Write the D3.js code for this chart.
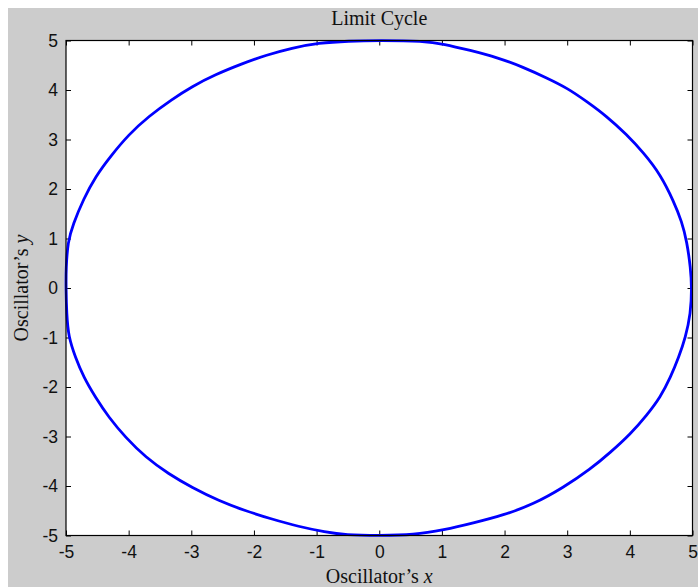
<!DOCTYPE html>
<html>
<head>
<meta charset="utf-8">
<script src="https://cdn.jsdelivr.net/npm/d3@7"></script>
<style>
  html, body { margin: 0; padding: 0; background: #ffffff; }
  svg { display: block; }
</style>
</head>
<body>
<svg id="chart" width="698" height="587"></svg>
<script>
// Phase-plane trajectory of the oscillator, traced counter-clockwise from (5, 0)
const cycleX = [
  4.99, 4.97, 4.91, 4.83, 4.70, 4.49, 4.22, 3.95, 3.63, 3.31, 3.00, 2.68, 2.30, 1.88, 1.45, 1.03, 0.71, 0.00,
  -0.49, -0.97, -1.39, -1.82, -2.19, -2.62, -2.99, -3.31, -3.68, -4.00, -4.29, -4.53, -4.72, -4.89, -4.97, -5.00,
  -5.00, -4.99, -4.96, -4.85, -4.72, -4.53, -4.32, -4.05, -3.73, -3.36, -2.99, -2.56, -2.14, -1.71, -1.29, -0.86, -0.54, 0.00,
  0.55, 1.03, 1.50, 1.98, 2.46, 2.94, 3.37, 3.69, 4.01, 4.27, 4.49, 4.65, 4.78, 4.89, 4.97
];
const cycleY = [
  0.00, 0.40, 0.94, 1.34, 1.75, 2.29, 2.73, 3.10, 3.47, 3.77, 4.04, 4.24, 4.46, 4.66, 4.80, 4.93, 4.99, 5.00,
  4.99, 4.95, 4.85, 4.70, 4.53, 4.31, 4.07, 3.81, 3.47, 3.10, 2.66, 2.25, 1.80, 1.28, 0.94, 0.40,
  0.00, -0.52, -0.99, -1.40, -1.80, -2.21, -2.61, -3.02, -3.42, -3.76, -4.03, -4.30, -4.50, -4.67, -4.82, -4.93, -4.99, -5.00,
  -4.99, -4.89, -4.75, -4.59, -4.37, -4.03, -3.66, -3.32, -2.95, -2.57, -2.20, -1.80, -1.40, -0.99, -0.52
];
const xTicks = [-5, -4, -3, -2, -1, 0, 1, 2, 3, 4, 5];
const yTicks = [-5, -4, -3, -2, -1, 0, 1, 2, 3, 4, 5];
const titleText = "Limit Cycle";

const svg = d3.select("#chart");
const W = 698, H = 587;
const plot = { left: 66, right: 692.5, top: 40.5, bottom: 535.5 };

// Figure background
svg.append("rect")
  .attr("x", 8).attr("y", 8)
  .attr("width", W - 8).attr("height", H - 8)
  .attr("fill", "#cccccc");

// Axes area
svg.append("rect")
  .attr("x", plot.left).attr("y", plot.top)
  .attr("width", plot.right - plot.left).attr("height", plot.bottom - plot.top)
  .attr("fill", "#ffffff");

const x = d3.scaleLinear().domain([-5, 5]).range([plot.left, plot.right]);
const y = d3.scaleLinear().domain([-5, 5]).range([plot.bottom, plot.top]);

const tickFont = "'Liberation Sans', Arial, sans-serif";
const fmt = d => String(d);

function styleAxis(g) {
  g.select(".domain").remove();
  g.selectAll(".tick line").attr("stroke", "#000").attr("stroke-width", 1);
  g.selectAll(".tick text")
    .attr("fill", "#111")
    .style("font-family", tickFont)
    .style("font-size", "17.5px");
}

// Inward ticks on all four sides
svg.append("g")
  .attr("transform", `translate(0,${plot.bottom})`)
  .call(d3.axisBottom(x).tickValues(xTicks).tickFormat(fmt).tickSize(-5).tickSizeOuter(0).tickPadding(10))
  .call(styleAxis);
svg.append("g")
  .attr("transform", `translate(0,${plot.top})`)
  .call(d3.axisTop(x).tickValues(xTicks).tickFormat("").tickSize(-5).tickSizeOuter(0))
  .call(styleAxis);
svg.append("g")
  .attr("transform", `translate(${plot.left},0)`)
  .call(d3.axisLeft(y).tickValues(yTicks).tickFormat(fmt).tickSize(-5).tickSizeOuter(0).tickPadding(8))
  .call(styleAxis);
svg.append("g")
  .attr("transform", `translate(${plot.right},0)`)
  .call(d3.axisRight(y).tickValues(yTicks).tickFormat("").tickSize(-5).tickSizeOuter(0))
  .call(styleAxis);

// Trajectory
const pts = cycleX.map((v, i) => [v, cycleY[i]]);
const line = d3.line()
  .x(d => x(d[0]))
  .y(d => y(d[1]))
  .curve(d3.curveBasisClosed);
svg.append("path")
  .datum(pts)
  .attr("d", line)
  .attr("fill", "none")
  .attr("stroke", "#0000ff")
  .attr("stroke-width", 2.8)
  .attr("stroke-linejoin", "round");

// Axes box
svg.append("rect")
  .attr("x", plot.left).attr("y", plot.top)
  .attr("width", plot.right - plot.left).attr("height", plot.bottom - plot.top)
  .attr("fill", "none")
  .attr("stroke", "#000")
  .attr("stroke-width", 1.2);

// Title and axis labels
const serif = "'Liberation Serif', 'Times New Roman', serif";
svg.append("text")
  .attr("x", (plot.left + plot.right) / 2).attr("y", 25)
  .attr("text-anchor", "middle")
  .style("font-family", serif).style("font-size", "20px")
  .attr("fill", "#111")
  .text(titleText);

const xl = svg.append("text")
  .attr("x", (plot.left + plot.right) / 2).attr("y", 583)
  .attr("text-anchor", "middle")
  .style("font-family", serif).style("font-size", "20px")
  .attr("fill", "#111");
xl.append("tspan").text("Oscillator’s ");
xl.append("tspan").style("font-style", "italic").text("x");

const yl = svg.append("text")
  .attr("transform", `translate(28,${(plot.top + plot.bottom) / 2}) rotate(-90)`)
  .attr("text-anchor", "middle")
  .style("font-family", serif).style("font-size", "20px")
  .attr("fill", "#111");
yl.append("tspan").text("Oscillator’s ");
yl.append("tspan").style("font-style", "italic").text("y");
</script>
</body>
</html>
